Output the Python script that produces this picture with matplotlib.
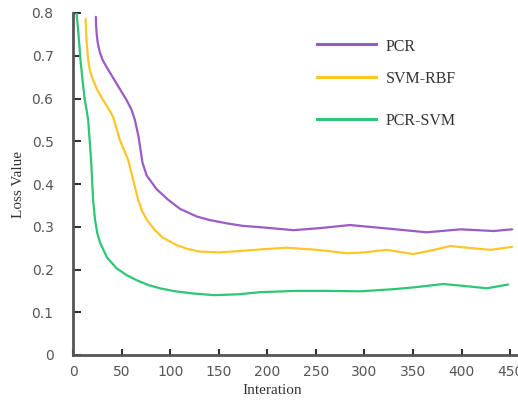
import matplotlib
matplotlib.use("Agg")
import matplotlib.pyplot as plt
from matplotlib.lines import Line2D

# ---- data ----
pcr_x = [23.5, 23.8, 24.5, 25.5, 27.6, 30.5, 34.5, 44.8, 55.2, 60, 63.7, 67.5, 69.5, 71.5,
         75.8, 86, 98, 110, 127.3, 140, 158.2, 175, 192.6, 227, 255, 285, 323, 364, 399,
         433, 452]
pcr_y = [0.791, 0.77, 0.748, 0.73, 0.708, 0.69, 0.674, 0.635, 0.596, 0.575, 0.55, 0.51, 0.48,
         0.45, 0.42, 0.388, 0.363, 0.342, 0.324, 0.316, 0.308, 0.302, 0.299, 0.292, 0.297,
         0.304, 0.296, 0.287, 0.294, 0.290, 0.294]

rbf_x = [12.9, 13.9, 15.6, 17.5, 20.7, 25, 31, 36, 41.3, 44.5, 48.2, 56.8, 62, 67.1, 71, 76,
         84, 92, 106.7, 118, 130.7, 150, 164.7, 192.6, 220, 251, 282, 300, 323, 350, 370,
         388, 410, 430, 452]
rbf_y = [0.786, 0.737, 0.69, 0.664, 0.643, 0.62, 0.596, 0.578, 0.557, 0.532, 0.503, 0.456,
         0.409, 0.363, 0.337, 0.316, 0.293, 0.275, 0.257, 0.248, 0.242, 0.240, 0.242, 0.247,
         0.251, 0.246, 0.238, 0.240, 0.246, 0.236, 0.245, 0.255, 0.250, 0.246, 0.253]

pcrsvm_x = [3.6, 5.3, 7.7, 9.8, 12.2, 14, 15.6, 17.2, 18.6, 20.7, 22.7, 25, 28, 35, 44.8, 55,
            65.5, 77, 89.5, 105, 123.5, 145, 170, 193, 230, 261, 296, 330, 350, 381, 405,
            426, 448]
pcrsvm_y = [0.80, 0.76, 0.69, 0.643, 0.596, 0.573, 0.55, 0.50, 0.456, 0.363, 0.316, 0.285,
            0.262, 0.228, 0.203, 0.187, 0.175, 0.164, 0.156, 0.149, 0.144, 0.140, 0.142,
            0.147, 0.150, 0.150, 0.149, 0.154, 0.158, 0.166, 0.161, 0.156, 0.165]

series_names = ["PCR", "SVM-RBF", "PCR-SVM"]
series_colors = ["#9A5BC6", "#FFC629", "#2DC674"]

x_ticks = [0, 50, 100, 150, 200, 250, 300, 350, 400, 450]
x_ticklabels = ["0", "50", "100", "150", "200", "250", "300", "350", "400", "450"]
y_ticks = [0, 0.1, 0.2, 0.3, 0.4, 0.5, 0.6, 0.7, 0.8]
y_ticklabels = ["0", "0.1", "0.2", "0.3", "0.4", "0.5", "0.6", "0.7", "0.8"]

# ---- figure ----
fig = plt.figure(figsize=(5.18, 4.01), dpi=100)
ax = fig.add_axes([73 / 518, 46 / 401, 445 / 518, 342 / 401])

data = [(pcr_x, pcr_y), (rbf_x, rbf_y), (pcrsvm_x, pcrsvm_y)]
for (xs, ys), c in zip(data, series_colors):
    ax.plot(xs, ys, color=c, lw=1.6, solid_capstyle="round", solid_joinstyle="round")

ax.set_xlim(0, 458)
ax.set_ylim(0, 0.8)

for s in ["top", "right"]:
    ax.spines[s].set_visible(False)
for s in ["left", "bottom"]:
    ax.spines[s].set_color("#555555")
    ax.spines[s].set_linewidth(2.0)

ax.set_xticks(x_ticks)
ax.set_xticklabels(x_ticklabels)
ax.set_yticks(y_ticks)
ax.set_yticklabels(y_ticklabels)
ax.tick_params(axis="y", direction="in", length=6, width=1.5, color="#333333",
               pad=14, labelsize=10, labelcolor="#555555")
ax.tick_params(axis="x", direction="in", length=4, width=1.5, color="#333333",
               pad=7, labelsize=10, labelcolor="#555555")

ax.set_ylabel("Loss Value", family="Liberation Serif", fontsize=11, color="#333333")
ax.set_xlabel("Interation", family="Liberation Serif", fontsize=11, color="#333333")
ax.xaxis.set_label_coords(0.447, -0.085)
ax.yaxis.set_label_coords(-0.107, 0.5)

# ---- legend (uneven spacing as in the reference) ----
leg_rows = [44, 77, 119]
text_rows = [47, 79, 121]
for name, c, ly, ty in zip(series_names, series_colors, leg_rows, text_rows):
    fig.add_artist(Line2D([317 / 518, 376 / 518], [1 - ly / 401, 1 - ly / 401],
                          color=c, lw=2.2, transform=fig.transFigure))
    fig.text(386 / 518, 1 - ty / 401, name, family="Liberation Serif", fontsize=11.5,
             color="#333333", va="center", ha="left")

fig.savefig("out.png", dpi=100)
